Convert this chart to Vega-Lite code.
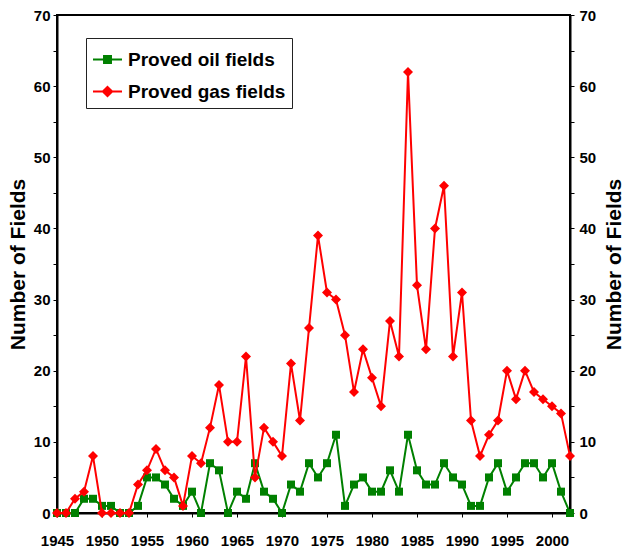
{
  "$schema": "https://vega.github.io/schema/vega-lite/v6.json",
  "width": 513,
  "height": 498,
  "autosize": {"type": "none"},
  "padding": {"left": 57, "top": 15, "right": 54, "bottom": 39},
  "background": "white",
  "config": {
    "font": "Liberation Sans",
    "view": {"stroke": "black", "strokeWidth": 2},
    "axis": {
      "domainColor": "black",
      "domainWidth": 2,
      "tickColor": "black",
      "tickWidth": 1,
      "tickSize": 4,
      "grid": false,
      "labelFont": "Liberation Sans",
      "labelFontSize": 15,
      "labelFontWeight": "bold",
      "labelColor": "black",
      "titleFont": "Liberation Sans",
      "titleFontSize": 21,
      "titleFontWeight": "bold",
      "titleColor": "black"
    }
  },
  "data": {
    "values": [
      {"year": 1945, "oil": 0, "gas": 0},
      {"year": 1946, "oil": 0, "gas": 0},
      {"year": 1947, "oil": 0, "gas": 2},
      {"year": 1948, "oil": 2, "gas": 3},
      {"year": 1949, "oil": 2, "gas": 8},
      {"year": 1950, "oil": 1, "gas": 0},
      {"year": 1951, "oil": 1, "gas": 0},
      {"year": 1952, "oil": 0, "gas": 0},
      {"year": 1953, "oil": 0, "gas": 0},
      {"year": 1954, "oil": 1, "gas": 4},
      {"year": 1955, "oil": 5, "gas": 6},
      {"year": 1956, "oil": 5, "gas": 9},
      {"year": 1957, "oil": 4, "gas": 6},
      {"year": 1958, "oil": 2, "gas": 5},
      {"year": 1959, "oil": 1, "gas": 1},
      {"year": 1960, "oil": 3, "gas": 8},
      {"year": 1961, "oil": 0, "gas": 7},
      {"year": 1962, "oil": 7, "gas": 12},
      {"year": 1963, "oil": 6, "gas": 18},
      {"year": 1964, "oil": 0, "gas": 10},
      {"year": 1965, "oil": 3, "gas": 10},
      {"year": 1966, "oil": 2, "gas": 22},
      {"year": 1967, "oil": 7, "gas": 5},
      {"year": 1968, "oil": 3, "gas": 12},
      {"year": 1969, "oil": 2, "gas": 10},
      {"year": 1970, "oil": 0, "gas": 8},
      {"year": 1971, "oil": 4, "gas": 21},
      {"year": 1972, "oil": 3, "gas": 13},
      {"year": 1973, "oil": 7, "gas": 26},
      {"year": 1974, "oil": 5, "gas": 39},
      {"year": 1975, "oil": 7, "gas": 31},
      {"year": 1976, "oil": 11, "gas": 30},
      {"year": 1977, "oil": 1, "gas": 25},
      {"year": 1978, "oil": 4, "gas": 17},
      {"year": 1979, "oil": 5, "gas": 23},
      {"year": 1980, "oil": 3, "gas": 19},
      {"year": 1981, "oil": 3, "gas": 15},
      {"year": 1982, "oil": 6, "gas": 27},
      {"year": 1983, "oil": 3, "gas": 22},
      {"year": 1984, "oil": 11, "gas": 62},
      {"year": 1985, "oil": 6, "gas": 32},
      {"year": 1986, "oil": 4, "gas": 23},
      {"year": 1987, "oil": 4, "gas": 40},
      {"year": 1988, "oil": 7, "gas": 46},
      {"year": 1989, "oil": 5, "gas": 22},
      {"year": 1990, "oil": 4, "gas": 31},
      {"year": 1991, "oil": 1, "gas": 13},
      {"year": 1992, "oil": 1, "gas": 8},
      {"year": 1993, "oil": 5, "gas": 11},
      {"year": 1994, "oil": 7, "gas": 13},
      {"year": 1995, "oil": 3, "gas": 20},
      {"year": 1996, "oil": 5, "gas": 16},
      {"year": 1997, "oil": 7, "gas": 20},
      {"year": 1998, "oil": 7, "gas": 17},
      {"year": 1999, "oil": 5, "gas": 16},
      {"year": 2000, "oil": 7, "gas": 15},
      {"year": 2001, "oil": 3, "gas": 14},
      {"year": 2002, "oil": 0, "gas": 8}
    ]
  },
  "transform": [
    {"fold": ["oil", "gas"], "as": ["series", "value"]}
  ],
  "encoding": {
    "x": {
      "field": "year",
      "type": "quantitative",
      "scale": {"domain": [1945, 2002], "nice": false, "zero": false},
      "axis": {
        "title": null,
        "values": [1945, 1950, 1955, 1960, 1965, 1970, 1975, 1980, 1985, 1990, 1995, 2000],
        "format": "d",
        "labelPadding": 16,
        "labelFlush": false,
        "labelOverlap": false
      }
    },
    "color": {
      "field": "series",
      "type": "nominal",
      "scale": {"domain": ["oil", "gas"], "range": ["#008000", "#ff0000"]},
      "legend": {
        "orient": "none",
        "legendX": 29,
        "legendY": 23,
        "title": null,
        "strokeColor": "#222222",
        "fillColor": "white",
        "padding": 6,
        "rowPadding": 6,
        "labelOffset": 5,
        "labelFont": "Liberation Sans",
        "labelFontSize": 19,
        "labelFontWeight": "bold",
        "labelColor": "black",
        "labelLimit": 300,
        "symbolSize": 841,
        "symbolStrokeWidth": 2,
        "symbolOpacity": 1,
        "labelExpr": "datum.value == 'oil' ? 'Proved oil fields' : 'Proved gas fields'",
        "encode": {
          "symbols": {
            "update": {
              "shape": {"signal": "datum.value == 'oil' ? 'M-1,0H1M-0.24,-0.24H0.24V0.24H-0.24Z' : 'M-1,0H1M0,-0.32L0.32,0L0,0.32L-0.32,0Z'"},
              "fill": {"signal": "datum.value == 'oil' ? '#008000' : '#ff0000'"},
              "stroke": {"signal": "datum.value == 'oil' ? '#008000' : '#ff0000'"}
            }
          }
        }
      }
    }
  },
  "layer": [
    {
      "transform": [{"filter": "datum.series == 'oil'"}],
      "mark": {"type": "line", "strokeWidth": 2},
      "encoding": {
        "y": {
          "field": "value",
          "type": "quantitative",
          "scale": {"domain": [0, 70], "nice": false},
          "axis": {
            "orient": "left",
            "title": "Number of Fields",
            "values": [0, 5, 10, 15, 20, 25, 30, 35, 40, 45, 50, 55, 60, 65, 70],
            "labelExpr": "datum.value % 10 == 0 ? datum.label : ''",
            "labelPadding": 3,
            "titleAngle": -90,
            "titleX": -39,
            "titleY": 249,
            "titleAlign": "center",
            "titleBaseline": "middle"
          }
        }
      }
    },
    {
      "transform": [{"filter": "datum.series == 'oil'"}],
      "mark": {"type": "point", "shape": "square", "filled": true, "size": 64, "opacity": 1},
      "encoding": {
        "y": {"field": "value", "type": "quantitative", "scale": {"domain": [0, 70], "nice": false}, "axis": null}
      }
    },
    {
      "transform": [{"filter": "datum.series == 'gas'"}],
      "mark": {"type": "line", "strokeWidth": 2},
      "encoding": {
        "y": {"field": "value", "type": "quantitative", "scale": {"domain": [0, 70], "nice": false}, "axis": null}
      }
    },
    {
      "transform": [{"filter": "datum.series == 'gas'"}],
      "mark": {"type": "point", "shape": "diamond", "filled": true, "size": 100, "opacity": 1},
      "encoding": {
        "y": {
          "field": "value",
          "type": "quantitative",
          "scale": {"domain": [0, 70], "nice": false},
          "axis": {
            "orient": "right",
            "title": "Number of Fields",
            "values": [0, 5, 10, 15, 20, 25, 30, 35, 40, 45, 50, 55, 60, 65, 70],
            "labelExpr": "datum.value % 10 == 0 ? datum.label : ''",
            "labelPadding": 5,
            "titleAngle": -90,
            "titleX": 44,
            "titleY": 249,
            "titleAlign": "center",
            "titleBaseline": "middle"
          }
        }
      }
    }
  ],
  "resolve": {"axis": {"y": "independent"}}
}
